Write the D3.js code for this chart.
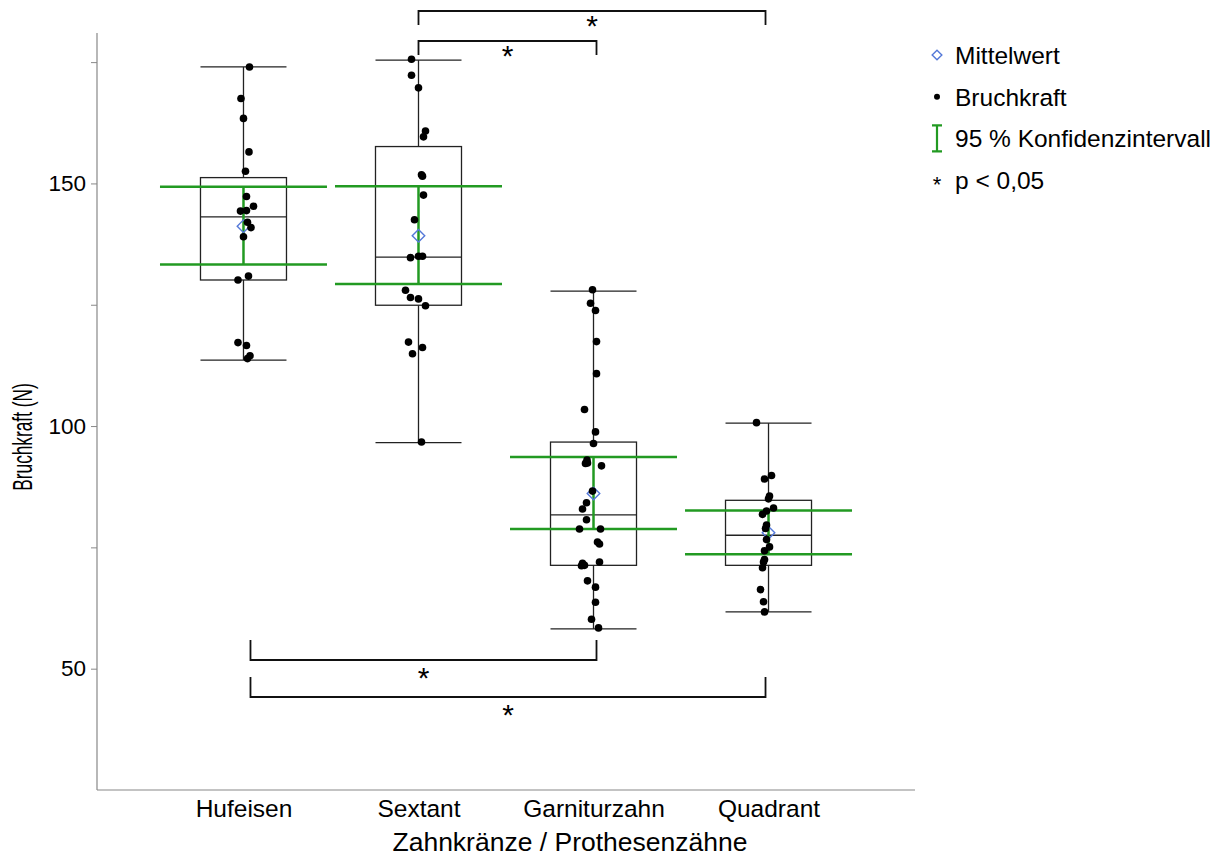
<!DOCTYPE html>
<html>
<head>
<meta charset="utf-8">
<script src="https://cdn.jsdelivr.net/npm/d3@7"></script>
<style>
  body { margin: 0; background: #fff; }
  text { font-family: "Liberation Sans", Arial, sans-serif; fill: #000; }
</style>
</head>
<body>
<svg id="chart" width="1223" height="856"></svg>
<script>
// categories
var categories = ['Hufeisen', 'Sextant', 'Garniturzahn', 'Quadrant']

// box statistics (N)
var whiskerHigh = [174.0, 175.4, 127.8, 100.6]
var q3 = [151.2, 157.6, 96.7, 84.7]
var median = [143.1, 134.8, 81.7, 77.5]
var q1 = [130.1, 124.9, 71.3, 71.3]
var whiskerLow = [113.6, 96.6, 58.2, 61.7]
var means = [141.2, 139.2, 86.1, 78.0]
var ciHigh = [149.3, 149.4, 93.6, 82.6]
var ciLow = [133.3, 129.3, 78.8, 73.6]

var hufeisen = [174.0, 167.5, 163.4, 156.5, 152.5, 147.3, 145.3, 144.3, 144.4, 142.0, 140.9, 139.0, 130.9, 130.1, 117.2, 116.6, 114.5, 113.9]
var hufeisenJit = [6, -2.5, 0, 5.5, 2, 3, 10, -3, 3, 4, 7.5, 0, 5, -5.5, -5.5, 3, 6.5, 4]
var sextant = [175.6, 172.3, 169.7, 160.8, 159.6, 151.8, 151.5, 147.6, 142.5, 134.7, 135.0, 135.0, 128.0, 126.5, 126.2, 124.8, 117.3, 116.2, 114.9, 96.7]
var sextantJit = [-7, -7, 0, 7, 5, 3, 4, 5, -4, -8, 0, 4, -13, -8, 0, 7, -10, 4, -6, 3]
var garnitur = [128.1, 125.3, 123.8, 117.4, 110.8, 103.4, 98.8, 96.4, 93.0, 92.4, 92.3, 91.8, 86.6, 84.2, 82.9, 80.7, 78.8, 78.8, 76.1, 75.7, 72.0, 71.7, 71.3, 71.2, 68.1, 66.8, 63.7, 60.2, 58.4]
var garniturJit = [-1, -3, 2, 3, 3, -9, 2, 0, -6.5, -6, -8, 8, -1, -7, -11, -7, -14, 7, 4, 6, 6, -11, -9, -12, -6, 2, 2, -2, 5]
var quadrant = [100.7, 89.8, 89.1, 85.6, 85.0, 83.1, 82.5, 81.8, 79.6, 78.9, 76.6, 75.1, 74.3, 72.5, 72.0, 70.8, 66.3, 63.8, 61.7]
var quadrantJit = [-12, 3, -4, 1, 0, 5, -2, -6, -2, -3, -2, 1, -4, -4, -5, -6, -8, -5, -4]

// significance brackets: [from, to, side, level]
var brackets = [
  ['Sextant', 'Quadrant', 'top', 0],
  ['Sextant', 'Garniturzahn', 'top', 1],
  ['Hufeisen', 'Garniturzahn', 'bottom', 0],
  ['Hufeisen', 'Quadrant', 'bottom', 1]
]

var legendItems = ['Mittelwert', 'Bruchkraft', '95 % Konfidenzintervall', 'p < 0,05']

var green = '#229a22'
var blue = '#5478d8'

var svg = d3.select('#chart')

var xScale = d3.scalePoint()
  .domain(categories)
  .range([97, 915])
  .padding(0.837)
var yScale = d3.scaleLinear()
  .domain([25, 181])
  .range([790, 33])

var boxW = 86, ciW = 167

// axes
var yAxis = d3.axisLeft(yScale)
  .tickValues([50, 75, 100, 125, 150, 175])
  .tickSize(6)
  .tickFormat(function (d) { return d % 50 == 0 ? d : '' })
var gy = svg.append('g')
  .attr('transform', 'translate(97,0)')
  .call(yAxis)
gy.select('.domain').remove()
gy.selectAll('line').attr('stroke', '#888')
gy.selectAll('text').style('font-size', '22.5px').attr('x', -11)

svg.append('line')
  .attr('x1', 97).attr('x2', 97)
  .attr('y1', 33).attr('y2', 790)
  .attr('stroke', '#888').attr('stroke-width', 1.2)
svg.append('line')
  .attr('x1', 97).attr('x2', 915)
  .attr('y1', 790).attr('y2', 790)
  .attr('stroke', '#888').attr('stroke-width', 1.2)

var xAxis = d3.axisBottom(xScale).tickSize(0).tickPadding(4)
var gx = svg.append('g')
  .attr('transform', 'translate(0,790)')
  .call(xAxis)
gx.select('.domain').remove()
gx.selectAll('text').style('font-size', '24.5px').attr('dy', '0.95em')

svg.append('text')
  .attr('x', 570)
  .attr('y', 851)
  .style('text-anchor', 'middle')
  .style('font-size', '26.5px')
  .text('Zahnkränze / Prothesenzähne')

// condensed y title
svg.append('text')
  .attr('transform', 'translate(32,437) rotate(-90) scale(0.64,1)')
  .style('text-anchor', 'middle')
  .style('font-size', '27px')
  .text('Bruchkraft (N)')

// boxes
var boxes = svg.selectAll('.box')
    .data(categories)
    .enter()
  .append('g')
    .attr('class', 'box')

boxes.each(function (c, i) {
  var g = d3.select(this)
  var cx = xScale(c)
  var stroke = function (sel) { return sel.attr('stroke', '#222').attr('stroke-width', 1.3) }
  // whiskers
  g.append('line').attr('x1', cx).attr('x2', cx)
    .attr('y1', yScale(whiskerHigh[i])).attr('y2', yScale(q3[i])).call(stroke)
  g.append('line').attr('x1', cx).attr('x2', cx)
    .attr('y1', yScale(q1[i])).attr('y2', yScale(whiskerLow[i])).call(stroke)
  g.append('line').attr('x1', cx - boxW / 2).attr('x2', cx + boxW / 2)
    .attr('y1', yScale(whiskerHigh[i])).attr('y2', yScale(whiskerHigh[i])).call(stroke)
  g.append('line').attr('x1', cx - boxW / 2).attr('x2', cx + boxW / 2)
    .attr('y1', yScale(whiskerLow[i])).attr('y2', yScale(whiskerLow[i])).call(stroke)
  // box
  g.append('rect')
    .attr('x', cx - boxW / 2).attr('width', boxW)
    .attr('y', yScale(q3[i])).attr('height', yScale(q1[i]) - yScale(q3[i]))
    .attr('fill', 'none').call(stroke)
  g.append('line').attr('x1', cx - boxW / 2).attr('x2', cx + boxW / 2)
    .attr('y1', yScale(median[i])).attr('y2', yScale(median[i])).call(stroke)
  // confidence interval
  g.append('line').attr('x1', cx).attr('x2', cx)
    .attr('y1', yScale(ciHigh[i])).attr('y2', yScale(ciLow[i]))
    .attr('stroke', green).attr('stroke-width', 2.5)
  ;[ciHigh[i], ciLow[i]].forEach(function (v) {
    g.append('line').attr('x1', cx - ciW / 2).attr('x2', cx + ciW / 2)
      .attr('y1', yScale(v)).attr('y2', yScale(v))
      .attr('stroke', green).attr('stroke-width', 2.5)
  })
  // mean
  g.append('path')
    .attr('d', d3.symbol().type(d3.symbolDiamond2).size(100))
    .attr('transform', 'translate(' + cx + ',' + yScale(means[i]) + ')')
    .attr('fill', 'none').attr('stroke', blue).attr('stroke-width', 1.4)
})

// points
var pointSets = [[hufeisen, hufeisenJit], [sextant, sextantJit], [garnitur, garniturJit], [quadrant, quadrantJit]]
pointSets.forEach(function (set, i) {
  svg.append('g').selectAll('circle')
      .data(set[0])
      .enter()
    .append('circle')
      .attr('cx', function (d, j) { return xScale(categories[i]) + set[1][j] })
      .attr('cy', function (d) { return yScale(d) })
      .attr('r', 3.8)
      .attr('fill', '#000')
})

// significance brackets
var topY = [11, 41], bottomY = [660, 697]
brackets.forEach(function (b) {
  var x1 = xScale(b[0]) + (b[0] == 'Hufeisen' ? 7 : 0)
  var x2 = xScale(b[1]) + (b[1] == 'Quadrant' ? -3 : 3)
  var path, sy
  if (b[2] == 'top') {
    var y = topY[b[3]]
    path = 'M' + x1 + ',' + (y + 14) + 'V' + y + 'H' + x2 + 'V' + (y + 14)
    sy = y + 25
  } else {
    var y = bottomY[b[3]]
    path = 'M' + x1 + ',' + (y - 20) + 'V' + y + 'H' + x2 + 'V' + (y - 20)
    sy = y + 27.5
  }
  svg.append('path').attr('d', path)
    .attr('fill', 'none').attr('stroke', '#111').attr('stroke-width', 1.8)
  svg.append('text')
    .attr('x', (x1 + x2) / 2).attr('y', sy)
    .style('text-anchor', 'middle')
    .style('font-size', '30px')
    .text('*')
})

// legend
var legend = svg.selectAll('.legend')
    .data(legendItems)
    .enter()
  .append('g')
    .attr('class', 'legend')
    .attr('transform', function (d, i) { return 'translate(937,' + (55 + i * 41.7) + ')' })

legend.append('text')
  .attr('x', 18)
  .attr('dy', '0.36em')
  .style('font-size', '24.5px')
  .text(function (d) { return d })

legend.each(function (d, i) {
  var g = d3.select(this)
  if (i == 0) {
    g.append('path').attr('d', d3.symbol().type(d3.symbolDiamond2).size(60))
      .attr('fill', 'none').attr('stroke', blue).attr('stroke-width', 1.4)
  } else if (i == 1) {
    g.append('circle').attr('r', 3).attr('fill', '#000')
  } else if (i == 2) {
    g.append('path').attr('d', 'M-5,-13H5M0,-13V13M-5,13H5')
      .attr('stroke', green).attr('stroke-width', 2.2).attr('fill', 'none')
  } else {
    g.append('text').attr('y', 12).style('text-anchor', 'middle')
      .style('font-size', '22px').text('*')
  }
})
</script>
</body>
</html>
